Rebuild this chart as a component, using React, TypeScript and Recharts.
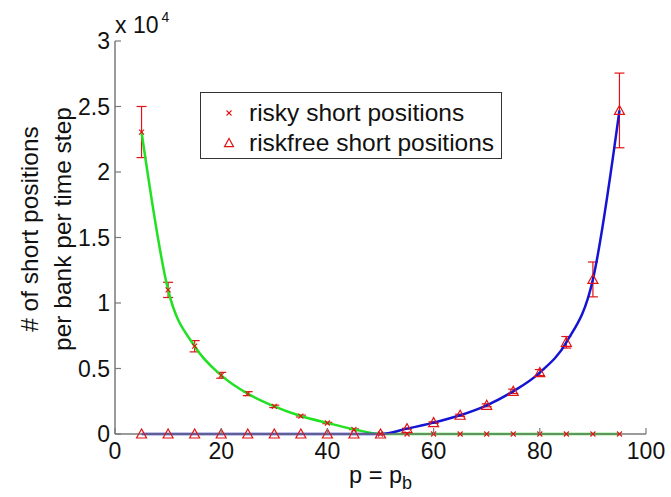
import React from 'react';
import { LineChart, Line, XAxis, YAxis, ErrorBar, Legend } from 'recharts';

// p = p_b (percent)
const pValues = [5, 10, 15, 20, 25, 30, 35, 40, 45, 50, 55, 60, 65, 70, 75, 80, 85, 90, 95];

// short positions per bank per time step
const riskyShort = [23050, 11000, 6700, 4480, 3080, 2110, 1370, 840, 360, 0, 0, 0, 0, 0, 0, 0, 0, 0, 0];
const riskyErr = [1950, 580, 430, 225, 150, 90, 70, 50, 30, null, null, null, null, null, null, null, null, null, null];
const riskfreeShort = [0, 0, 0, 0, 0, 0, 0, 0, 0, 0, 410, 870, 1430, 2190, 3260, 4690, 7000, 11800, 24700];
const riskfreeErr = [null, null, null, null, null, null, null, null, null, null, 30, 60, 80, 110, 160, 230, 440, 1330, 2850];

const xTicks = [0, 20, 40, 60, 80, 100];
const yTicks = [0, 5000, 10000, 15000, 20000, 25000, 30000];
const legendOrder = ['risky', 'riskfree'];

const data = pValues.map((p, i) => ({
  p,
  risky: riskyShort[i],
  riskyErr: riskyErr[i],
  riskfree: riskfreeShort[i],
  riskfreeErr: riskfreeErr[i],
}));

const FONT = '"Liberation Sans", Arial, Helvetica, sans-serif';
const W = 671;
const H = 497;
const PLOT = { left: 115, right: 646, top: 41, bottom: 434 };

const C = {
  green: '#22e022',
  blue: '#1414d2',
  red: '#e01414',
  axis: '#7a7a7a',
  text: '#111111',
};

const Cross = ({ cx, cy, s = 2.5 }: { cx: number; cy: number; s?: number }) => (
  <g stroke={C.red} strokeWidth={1.1}>
    <line x1={cx - s} y1={cy - s} x2={cx + s} y2={cy + s} />
    <line x1={cx - s} y1={cy + s} x2={cx + s} y2={cy - s} />
  </g>
);

const Triangle = ({ cx, cy, s = 5 }: { cx: number; cy: number; s?: number }) => (
  <polygon
    points={`${cx},${cy - s} ${cx - s},${cy + s * 0.8} ${cx + s},${cy + s * 0.8}`}
    fill="none"
    stroke={C.red}
    strokeWidth={1.2}
  />
);

const BottomTick = (props: any) => {
  const { x, payload } = props;
  return (
    <g>
      <line x1={x} x2={x} y1={PLOT.bottom} y2={PLOT.bottom - 6} stroke={C.axis} strokeWidth={1.2} />
      <text x={x} y={459} textAnchor="middle" fontFamily={FONT} fontSize={23} fill={C.text}>
        {payload.value}
      </text>
    </g>
  );
};

const LeftTick = (props: any) => {
  const { y, payload } = props;
  return (
    <g>
      <line x1={PLOT.left} x2={PLOT.left + 6} y1={y} y2={y} stroke={C.axis} strokeWidth={1.2} />
      <text x={110} y={y + 8} textAnchor="end" fontFamily={FONT} fontSize={23} fill={C.text}>
        {payload.value / 10000}
      </text>
    </g>
  );
};

const TopTick = (props: any) => (
  <line x1={props.x} x2={props.x} y1={PLOT.top} y2={PLOT.top + 6} stroke={C.axis} strokeWidth={1.2} />
);

const RightTick = (props: any) => (
  <line x1={PLOT.right} x2={PLOT.right - 6} y1={props.y} y2={props.y} stroke={C.axis} strokeWidth={1.2} />
);

const LegendBox = ({ payload }: any) => {
  const items = [...(payload || [])].sort(
    (a: any, b: any) => legendOrder.indexOf(a.dataKey) - legendOrder.indexOf(b.dataKey)
  );
  return (
    <div
      style={{
        width: 302,
        height: 67,
        boxSizing: 'border-box',
        border: '1px solid #333',
        background: '#fff',
        position: 'relative',
        fontFamily: FONT,
        fontSize: 24.5,
        color: C.text,
      }}
    >
      {items.map((item: any, i: number) => (
        <div
          key={item.dataKey}
          style={{ position: 'absolute', left: 0, top: 5 + i * 30, height: 30, display: 'flex', alignItems: 'center', whiteSpace: 'nowrap' }}
        >
          <svg width={48} height={30}>
            {item.dataKey === 'risky' ? <Cross cx={28} cy={15} s={2.5} /> : <Triangle cx={28} cy={15} s={4.5} />}
          </svg>
          <span>{item.value}</span>
        </div>
      ))}
    </div>
  );
};

export default function App() {
  return (
    <div style={{ position: 'absolute', left: 0, top: 0, width: W, height: H, background: '#fff' }}>
      <LineChart width={W} height={H} data={data} margin={{ top: PLOT.top, right: W - PLOT.right, bottom: 0, left: 0 }}>
        <XAxis
          dataKey="p"
          type="number"
          domain={[0, 100]}
          ticks={xTicks}
          height={H - PLOT.bottom}
          axisLine={{ stroke: C.axis, strokeWidth: 1.5 }}
          tickLine={false}
          tick={BottomTick}
          interval={0}
        />
        <XAxis
          xAxisId="top"
          orientation="top"
          type="number"
          domain={[0, 100]}
          ticks={xTicks}
          height={0}
          axisLine={{ stroke: C.axis, strokeWidth: 1.5 }}
          tickLine={false}
          tick={TopTick}
          interval={0}
        />
        <YAxis
          type="number"
          domain={[0, 30000]}
          ticks={yTicks}
          width={PLOT.left}
          axisLine={{ stroke: C.axis, strokeWidth: 1.5 }}
          tickLine={false}
          tick={LeftTick}
          interval={0}
        />
        <YAxis
          yAxisId="right"
          orientation="right"
          type="number"
          domain={[0, 30000]}
          ticks={yTicks}
          width={0}
          axisLine={{ stroke: C.axis, strokeWidth: 1.5 }}
          tickLine={false}
          tick={RightTick}
          interval={0}
        />
        <Legend
          layout="vertical"
          align="center"
          verticalAlign="middle"
          content={LegendBox}
          wrapperStyle={{ left: 200, top: 92, width: 302, height: 67 }}
        />
        <Line
          dataKey="risky"
          name="risky short positions"
          type="monotone"
          stroke={C.green}
          strokeWidth={2.5}
          isAnimationActive={false}
          dot={(props: any) => <Cross key={`r${props.index}`} cx={props.cx} cy={props.cy} />}
          activeDot={false}
        >
          <ErrorBar dataKey="riskyErr" direction="y" width={5} stroke={C.red} strokeWidth={1.2} />
        </Line>
        <Line
          dataKey="riskfree"
          name="riskfree short positions"
          type="monotone"
          stroke={C.blue}
          strokeWidth={2.5}
          isAnimationActive={false}
          dot={(props: any) => <Triangle key={`f${props.index}`} cx={props.cx} cy={props.cy} />}
          activeDot={false}
        >
          <ErrorBar dataKey="riskfreeErr" direction="y" width={5} stroke={C.red} strokeWidth={1.2} />
        </Line>
      </LineChart>

      {/* exponent above the y axis */}
      <div style={{ position: 'absolute', left: 115, top: 14, fontFamily: FONT, fontSize: 23, lineHeight: '23px', color: C.text, whiteSpace: 'nowrap' }}>
        x 10<span style={{ fontSize: 14, position: 'relative', top: -11, marginLeft: 3 }}>4</span>
      </div>

      {/* y axis label */}
      <div
        style={{
          position: 'absolute',
          left: 46 - 160,
          top: 229 - 33,
          width: 320,
          height: 66,
          transform: 'rotate(-90deg)',
          transformOrigin: 'center',
          textAlign: 'center',
          fontFamily: FONT,
          fontSize: 24.5,
          lineHeight: '33px',
          color: C.text,
          whiteSpace: 'nowrap',
        }}
      >
        # of short positions
        <br />
        per bank per time step
      </div>

      {/* x axis label */}
      <div
        style={{
          position: 'absolute',
          left: PLOT.left,
          top: 464,
          width: PLOT.right - PLOT.left,
          textAlign: 'center',
          fontFamily: FONT,
          fontSize: 23.5,
          lineHeight: '23px',
          color: C.text,
          whiteSpace: 'nowrap',
        }}
      >
        p = p<span style={{ fontSize: 18, position: 'relative', top: 6 }}>b</span>
      </div>
    </div>
  );
}
